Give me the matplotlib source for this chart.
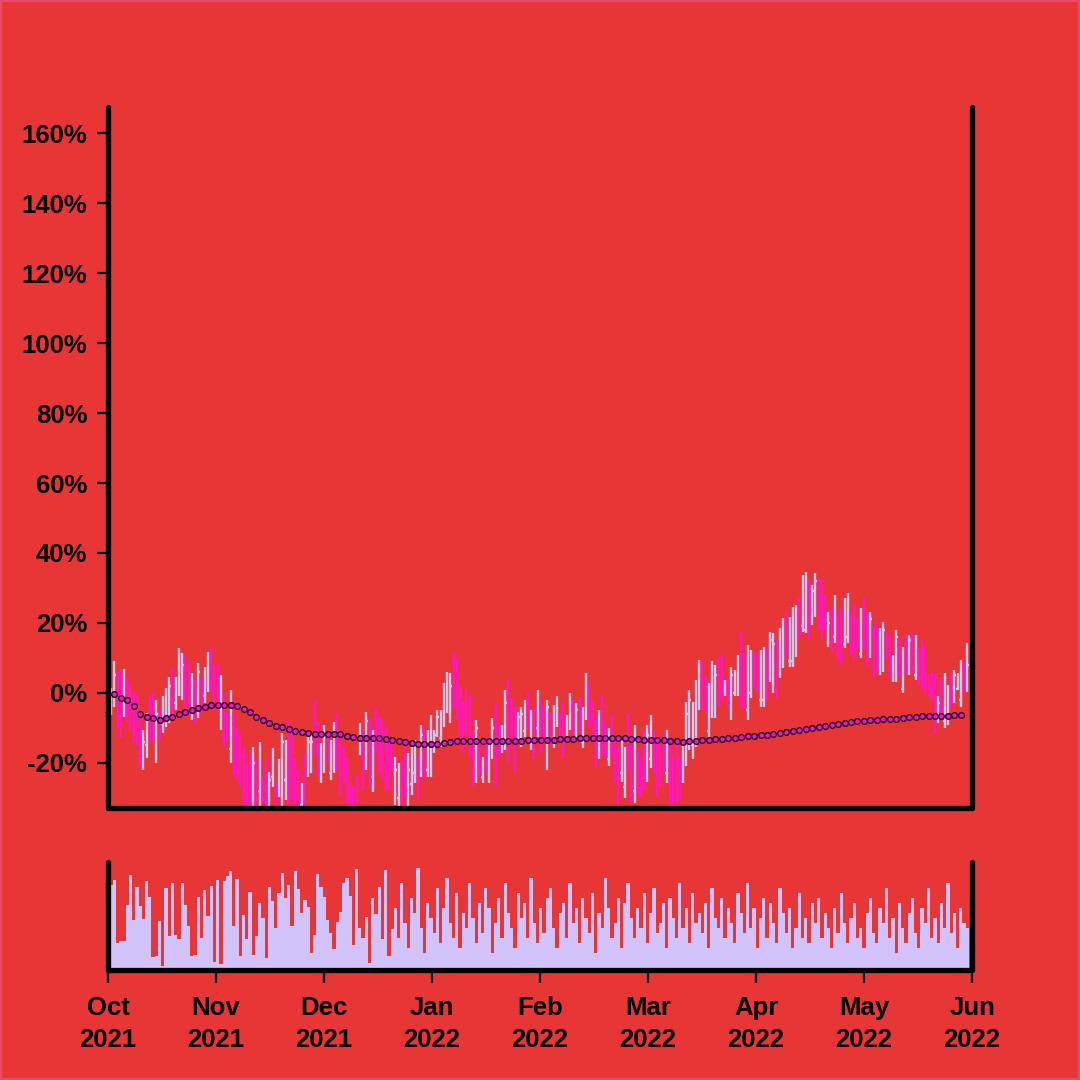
import matplotlib
matplotlib.use("Agg")
import matplotlib.pyplot as plt
import numpy as np

# ---------------- data (percent change, one entry per session) ----------------
month_labels = ["Oct\n2021", "Nov\n2021", "Dec\n2021", "Jan\n2022", "Feb\n2022",
                "Mar\n2022", "Apr\n2022", "May\n2022", "Jun\n2022"]

open_pct = [
    -4, -1, 4, 3, -4, 2, 0, -3, -5, -10, -19, -15, -4, -3, -17, -6, -9, -6, -5, 4,
    -3, 2, 1, 8, 5, -5, 2, -4, 3, -1, 2, 10, 5, 4, -7, -2, -7, -16, -9, -13,
    -14, -18, -22, -20, -28, -22, -28, -25, -21, -31, -24, -27, -28, -28, -25, -12, -14, -22, -24, -32,
    -20, -22, -20, -5, -10, -24, -20, -13, -23, -20, -8, -13, -17, -20, -27, -28, -25, -16, -13, -18,
    -10, -24, -7, -9, -10, -12, -14, -15, -29, -30, -21, -17, -31, -26, -23, -19, -22, -11, -22, -20,
    -16, -11, -13, -8, -4, -6, 9, 7, 0, -4, -1, -3, -13, -22, -15, -24, -14, -24, -17, -6,
    -10, -16, -14, 1, -3, -6, -12, -13, -11, -1, -14, -5, -10, -4, -5, -18, -7, -13, -8, -7,
    -4, -13, -9, -4, -11, -3, -14, -6, 1, -4, -8, -16, -3, -10, -19, -8, -15, -17, -23, -27,
    -8, -15, -28, -17, -19, -12, -22, -19, -12, -16, -16, -13, -23, -17, -20, -15, -20, -24, -18, -13,
    -15, -12, -3, 7, 3, -11, -5, -5, 8, 9, 0, 3, -5, 0, 1, 14, 9, -5, 0, 11,
    10, -2, -2, 11, 4, 2, 13, 5, 8, 21, 9, 9, 12, 26, 19, 18, 30, 21, 23, 30,
    30, 27, 14, 23, 16, 21, 22, 14, 16, 22, 23, 20, 11, 25, 21, 11, 17, 19, 7, 8,
    16, 15, 4, 5, 14, 1, 15, 6, 16, 5, 12, 14, 12, 4, 5, 3, -7, 3, -8, -7,
    4, -2, 1, -2, 8, 2,
]
high_pct = [
    1.3, 9, 6.1, 6.6, 6.8, 4.2, 2.3, 0, -1, -7.7, -10.6, -5.8, -1, 0, -2, -4.9, -1, 1.3, 4.7, 7,
    4.7, 12.8, 11.3, 10.9, 8.5, 5.6, 4, 8.5, 4.7, 7.5, 11.8, 12.8, 8, 8, 5.1, 0, -5.8, 0.9, -5.8, -10,
    -11.5, -15.3, -20, -17.2, -15.3, -19, -13.9, -24, -19, -22.5, -15.8, -26, -19, -11.5, -13.4, -8.2, -10.5, -19, -22, -25.8,
    -17.2, -11.5, -11.5, -2, -8.2, -14.4, -9.1, -12.5, -13.4, -8.2, -5.8, -10.6, -15.3, -18.2, -25.8, -26.8, -23.4, -8.7, -10.6, -5.3,
    -7.2, -10.6, -4.4, -6.8, -7.2, -9.6, -12.5, -13.4, -18.2, -20, -19, -15.3, -17.2, -15.3, -13.4, -18.2, -9.1, -9.6, -10.6, -6.3,
    -10.6, -4.9, -4.9, 2.8, 6.1, 5.6, 11.8, 9.9, 2.2, -2.5, 0.9, -1, -11.5, -7.7, -13.4, -18.2, -12.5, -14.4, -7.2, -3,
    -8.7, -9.1, 0.9, 3.7, -1.5, -3.9, -5.3, -3.9, -2, 0.4, -4.9, -3.9, 0.9, -2, -3.9, -2, -5.8, -3.4, -1, -5.8,
    -2.5, -6.3, -0.1, -2, -2.9, -1.5, -3.9, 5.6, 2.8, -2, -6.8, -4.9, -0.6, -8.2, -10.1, -6.3, -13.4, -15.3, -13.4, -15.3,
    -5.8, -13.4, -9.1, -15.8, -18.2, -10.6, -9.1, -6.3, -11, -14.4, -14.4, -11.5, -10.6, -14.9, -18.2, -13.4, -18.2, -13.4, -2.5, 0.9,
    -2.5, 3.7, 9.4, 9.4, 4.7, 2.8, 9, 8, 10.4, 10.9, 3.7, 4.2, 7.5, 6.6, 10.9, 17.5, 11.3, 13.7, 12.3, 11.8,
    11.3, 12.3, 13.2, 12.8, 17.5, 17, 15.1, 18.5, 21.3, 22.8, 21.8, 24.7, 25.1, 27.5, 33.7, 34.7, 32.3, 30.9, 34.2, 32.8,
    32.3, 28, 23.2, 24.7, 28, 22.3, 24.2, 27, 28.5, 23.2, 25.1, 21.3, 24.2, 27, 23.2, 23.2, 19, 20.4, 18.5, 20.4,
    17.5, 16.6, 10.9, 18, 15.6, 13.2, 16.6, 16.6, 17.5, 16.6, 12.8, 15.1, 13.2, 5.1, 5.6, 5.6, -1, 4.2, 5.6, 2.3,
    5.6, 6.6, 5.6, 9.4, 9, 14.2,
]
low_pct = [
    -6.3, -3.9, -10, -13, -6.8, -8.2, -11, -14.4, -15, -21, -22, -18.7, -14, -13.4, -20, -13.4, -11.5, -9.6, -8.7, -6.3,
    -4.9, -1, -2, -3.9, -6.3, -7.7, -9, -7.2, -5.8, -3, 0.4, -0.1, -4, -5.8, -10.6, -15.3, -14, -20, -23.4, -24.9,
    -26.8, -34, -34, -34, -34, -34, -34, -31.5, -34, -34, -26.8, -34, -29.6, -34, -30.6, -32, -30.5, -34, -34, -34,
    -34, -23.9, -23, -18, -23.9, -25.8, -23, -20, -24.9, -23, -21.9, -29.6, -25.8, -34, -34, -34, -34, -17.7, -27.7, -21.9,
    -26.8, -28.2, -17.2, -22.9, -24.9, -27.7, -27.7, -22, -32, -34, -34, -29.6, -34, -29.2, -25.8, -30.6, -23.9, -24.9, -23.9, -23.9,
    -17.2, -12.5, -15.3, -9.6, -5.8, -8.7, -4.4, -7.7, -12.5, -17.2, -11.5, -18.2, -26.8, -25.8, -23.9, -25.8, -23, -25.8, -19, -26.8,
    -18.2, -17.2, -16.3, -20, -14.9, -22.9, -13.4, -15.3, -12.5, -10.6, -16.3, -19, -12.5, -17.2, -13.4, -22, -14.9, -15.8, -9.6, -14.4,
    -18.7, -14.4, -10.6, -12.5, -12.5, -11.5, -15.8, -7.7, -9.6, -13.4, -21.5, -19, -17.7, -19, -21, -18.7, -25.8, -32, -25.3, -30.1,
    -22, -31.5, -31.5, -29.2, -29.6, -27.7, -25.3, -21.5, -22.9, -29.6, -26.8, -23, -25.8, -34, -34, -34, -30.6, -25.8, -21, -16.3,
    -19, -15.3, -4.9, -4.9, -5.8, -12.5, -7.2, -7.2, -3.9, -2, -1, -4.4, -7.7, -1, -1, -3.9, -4.9, -7.7, -1.5, 1.8,
    -0.1, -3.9, -3.9, -2, 3.2, 0, -2, 4.2, 7, 10.4, 7.5, 7.5, 10.4, 15.1, 17.5, 17, 15.1, 19.4, 21.8, 18,
    15.1, 18, 13.2, 11.3, 14.2, 9.4, 8, 12.8, 14.2, 10.9, 9.4, 12.3, 9.9, 12.3, 7.5, 9.9, 4.2, 6.1, 5.1, 6.1,
    9.5, 4.2, 3.2, 3.2, 4.7, -0.1, 5.6, 5.1, 5.6, 3.7, 2.3, 1.3, -0.1, -1, -2, -11.6, -8.7, -6.8, -10.1, -9.1,
    -4.4, -3, 0.9, -3.9, 0.4, 0.4,
]
close_pct = [
    -1, 5, -6, -8, 4, -5, -8, -11, -12, -18, -14, -9, -11, -10, -6, -12, -3, 0, 2, -3,
    3, 10, 8, 0, -3, 3, -6, 6, -3, 6, 9, 2, -2, -3, 3, -12, -12, -3, -20, -22,
    -24, -30, -30, -28, -20, -30, -18, -30, -30, -25, -18, -32, -22, -14, -16, -26, -25, -30, -32, -28,
    -30, -14, -14, -15, -20, -17, -12, -18, -16, -11, -19, -26, -24, -30, -32, -33, -31, -11, -24, -8,
    -23, -13, -15, -20, -22, -24, -25, -20, -22, -24, -31, -27, -22, -19, -16, -28, -12, -22, -14, -9,
    -12, -7, -7, 0, 4, 2, -1, -4, -10, -14, -9, -15, -24, -10, -22, -20, -21, -17, -10, -23,
    -16, -11, -3, -17, -13, -20, -7, -6, -4, -9, -7, -17, -2, -15, -11, -4, -13, -6, -3, -12,
    -16, -8, -3, -10, -5, -10, -6, 3, -7, -11, -19, -8, -15, -17, -13, -16, -23, -29, -16, -19,
    -19, -28, -12, -26, -27, -25, -12, -9, -21, -27, -24, -21, -13, -31, -30, -28, -28, -16, -6, -2,
    -5, 1, 7, -2, -4, -2, 6, 5, -1, 1, 3, -3, 5, 5, 9, 0, -2, 10, 10, 3,
    1, 10, 11, 0, 15, 14, 1, 16, 19, 12, 19, 22, 23, 17, 32, 30, 17, 29, 32, 20,
    17, 20, 20, 13, 26, 11, 10, 25, 26, 13, 11, 14, 22, 14, 9, 21, 6, 8, 17, 18,
    11, 6, 9, 16, 6, 12, 7, 15, 7, 15, 4, 3, 2, 0, -1, -8, -3, -5, 2, 0,
    -2, 5, 5, 8, 2, 8,
]
volume = [
    83, 88, 25, 27, 27, 63, 93, 48, 81, 62, 49, 87, 71, 11, 12, 47, 2, 80, 32, 85,
    33, 29, 85, 63, 42, 12, 13, 71, 30, 78, 52, 82, 6, 88, 4, 87, 92, 97, 42, 89,
    12, 53, 29, 76, 13, 32, 65, 50, 10, 81, 67, 40, 75, 95, 70, 83, 42, 97, 79, 55,
    68, 61, 15, 33, 94, 81, 71, 48, 35, 19, 46, 56, 85, 90, 72, 23, 99, 40, 30, 51,
    5, 70, 54, 81, 29, 98, 12, 39, 60, 30, 85, 45, 20, 70, 55, 100, 40, 15, 65, 50,
    35, 80, 25, 60, 90, 45, 30, 75, 20, 55, 40, 85, 50, 25, 65, 35, 80, 60, 15, 45,
    70, 30, 85, 55, 40, 20, 75, 50, 65, 30, 90, 45, 25, 60, 35, 70, 80, 40, 20, 55,
    65, 30, 85, 45, 60, 25, 70, 50, 35, 75, 15, 55, 40, 90, 60, 30, 45, 70, 20, 65,
    85, 50, 30, 60, 40, 75, 25, 55, 80, 35, 45, 65, 20, 70, 50, 30, 85, 40, 60, 25,
    75, 45, 55, 35, 65, 20, 80, 50, 40, 70, 30, 60, 45, 25, 75, 55, 35, 85, 40, 60,
    20, 50, 70, 30, 65, 45, 25, 80, 55, 35, 60, 20, 40, 75, 30, 50, 25, 65, 45, 70,
    30, 55, 40, 20, 60, 35, 75, 45, 25, 50, 65, 30, 40, 20, 55, 70, 35, 25, 60, 45,
    80, 30, 50, 15, 65, 40, 25, 55, 70, 35, 20, 60, 45, 80, 30, 50, 25, 65, 40, 85,
    35, 55, 20, 60, 45, 40,
]
# expanding-average line, one reading for every second session (sessions 1, 3, 5, ...)
ma_pct = [
    -0.3, -1.5, -2.1, -3.8, -6.1, -6.8, -7.2, -7.6, -7.2, -6.9,
    -6.1, -5.4, -4.8, -4.3, -3.9, -3.5, -3.3, -3.3, -3.5, -3.8,
    -4.5, -5.5, -6.9, -7.7, -8.7, -9.3, -9.7, -10.2, -10.8, -11.2,
    -11.4, -11.6, -11.7, -11.8, -11.8, -11.8, -12.2, -12.6, -12.8, -12.8,
    -12.8, -13.0, -13.2, -13.4, -13.8, -14.1, -14.3, -14.5, -14.7, -14.7,
    -14.5, -14.3, -13.9, -13.7, -13.7, -13.6, -13.7, -13.7, -13.8, -13.7,
    -13.7, -13.7, -13.6, -13.6, -13.5, -13.5, -13.5, -13.4, -13.3, -13.2,
    -13.1, -13.1, -13.0, -12.9, -12.9, -12.8, -12.8, -12.9, -13.0, -13.0,
    -13.1, -13.2, -13.3, -13.4, -13.4, -13.5, -13.6, -13.8, -13.9, -13.8,
    -13.6, -13.5, -13.3, -13.2, -13.1, -13.0, -12.8, -12.6, -12.4, -12.3,
    -12.1, -11.9, -11.7, -11.4, -11.1, -10.9, -10.6, -10.3, -9.9, -9.6,
    -9.4, -9.1, -8.9, -8.6, -8.3, -8.1, -7.9, -7.8, -7.6, -7.5,
    -7.4, -7.3, -7.1, -7.0, -6.8, -6.7, -6.6, -6.5, -6.5, -6.5,
    -6.4, -6.4,
]

# ---------------- style ----------------
BG = "#E83535"
UP = "#CFC6F4"
DOWN = "#FF14C8"
VOLC = "#D2C2FA"
MA_FACE = "#FF10C8"
MA_EDGE = "#1E0A1E"
FONT = "Liberation Sans"

plt.rcParams["font.family"] = [FONT, "DejaVu Sans"]
plt.rcParams["font.weight"] = "bold"

o = np.array(open_pct) / 100
h = np.array(high_pct) / 100
l = np.array(low_pct) / 100
c = np.array(close_pct) / 100
x = np.arange(len(c))
up = c >= o
dn = ~up

fig = plt.figure(figsize=(10.8, 10.8), dpi=100)
fig.patch.set_facecolor(BG)

ax = fig.add_axes([0.1, 0.25185, 0.8, 0.64907])
axv = fig.add_axes([0.1, 0.10185, 0.8, 0.1], sharex=ax)
for a in (ax, axv):
    a.set_facecolor(BG)

tick_half = 0.42
for mask, col in ((up, UP), (dn, DOWN)):
    ax.vlines(x[mask], l[mask], h[mask], color=col, lw=1.7, zorder=2)
    ax.hlines(o[mask], x[mask] - tick_half, x[mask], color=col, lw=1.7, zorder=2)
    ax.hlines(c[mask], x[mask], x[mask] + tick_half, color=col, lw=1.7, zorder=2)

ma_x = x[1::2][:len(ma_pct)]
ax.plot(ma_x, np.array(ma_pct) / 100, ls="none", marker="o", ms=4.1,
        mfc=MA_FACE, mec=MA_EDGE, mew=1.0, zorder=3)

axv.bar(x, volume, width=1.0, color=VOLC, linewidth=0, zorder=2)

xlim = (-0.95, 266.45)
ax.set_xlim(*xlim)
ax.set_ylim(-0.3286, 1.6743)
axv.set_ylim(-2, 106)

yt = np.arange(-0.2, 1.61, 0.2)
ax.set_yticks(yt)
ax.set_yticklabels([f"{v * 100:.0f}%".replace("\u2212", "-") for v in yt])
ax.tick_params(axis="y", direction="out", length=8, width=1.6, pad=7,
               labelsize=18.5, colors="black")
ax.tick_params(axis="x", bottom=False, labelbottom=False)

axv.set_yticks([])
axv.set_xticks(np.linspace(xlim[0], xlim[1], len(month_labels)))
axv.set_xticklabels(month_labels, fontsize=18.5, fontweight="bold", linespacing=1.4)
axv.tick_params(axis="x", direction="out", length=9, width=1.6, pad=10)

for a in (ax, axv):
    a.spines["top"].set_visible(False)
    for s in ("left", "right", "bottom"):
        a.spines[s].set_linewidth(3.8)
        a.spines[s].set_color("black")
        a.spines[s].set_capstyle("round")
for lab in ax.get_yticklabels():
    lab.set_fontweight("bold")

fig.patch.set_edgecolor("#EA4868")
fig.patch.set_linewidth(1.5)
fig.savefig("out.png", dpi=100, facecolor=BG, edgecolor="#EA4868")
